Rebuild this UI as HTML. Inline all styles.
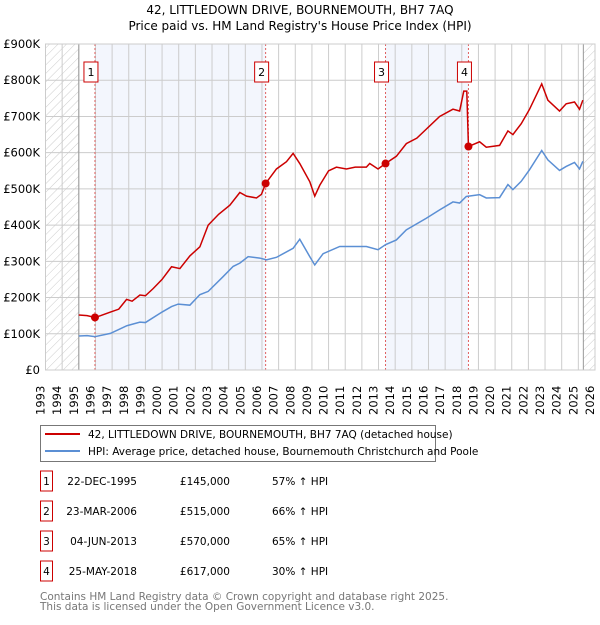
<!DOCTYPE html>
<html><head><meta charset="utf-8"><style>
body{margin:0;background:#fff;font-family:"Liberation Sans","DejaVu Sans",sans-serif;}
svg text{font-family:"DejaVu Sans","Liberation Sans",sans-serif;}
</style></head><body>
<svg id="c" width="600" height="620" viewBox="0 0 600 620">
<defs><pattern id="hatch" width="6" height="6" patternUnits="userSpaceOnUse" patternTransform="rotate(45)"><line x1="0" y1="0" x2="0" y2="6" stroke="#ccc" stroke-width="1"/></pattern></defs>
<text x="300" y="14" text-anchor="middle" font-size="12" fill="#000">42, LITTLEDOWN DRIVE, BOURNEMOUTH, BH7 7AQ</text>
<text x="300" y="30" text-anchor="middle" font-size="12" fill="#000">Price paid vs. HM Land Registry's House Price Index (HPI)</text>
<g id="plot"></g>
<g>
<rect x="40.5" y="425.5" width="395" height="36" fill="#fff" stroke="#777"/>
<line x1="45" y1="434" x2="80" y2="434" stroke="#cc0000" stroke-width="2"/>
<text x="88" y="438" font-size="10.5">42, LITTLEDOWN DRIVE, BOURNEMOUTH, BH7 7AQ (detached house)</text>
<line x1="45" y1="451" x2="80" y2="451" stroke="#5b8fd4" stroke-width="2"/>
<text x="88" y="455" font-size="10.5">HPI: Average price, detached house, Bournemouth Christchurch and Poole</text>
</g>
<g id="table" font-size="10.5"></g>
<text x="40" y="600" font-size="10.5" fill="#777">Contains HM Land Registry data © Crown copyright and database right 2025.</text>
<text x="40" y="610" font-size="10.5" fill="#777">This data is licensed under the Open Government Licence v3.0.</text>
</svg>
<script>
const yTicks=[0,100,200,300,400,500,600,700,800,900];
const yTickLabels=["£0","£100K","£200K","£300K","£400K","£500K","£600K","£700K","£800K","£900K"];
const years=[1993,1994,1995,1996,1997,1998,1999,2000,2001,2002,2003,2004,2005,2006,2007,2008,2009,2010,2011,2012,2013,2014,2015,2016,2017,2018,2019,2020,2021,2022,2023,2024,2025,2026];
const saleTimes=[1995.97,2006.22,2013.42,2018.4];
const salePrices=[145,515,570,617];
const saleLabels=["1","2","3","4"];
const saleDates=["22-DEC-1995","23-MAR-2006","04-JUN-2013","25-MAY-2018"];
const salePriceText=["£145,000","£515,000","£570,000","£617,000"];
const saleHpiText=["57% ↑ HPI","66% ↑ HPI","65% ↑ HPI","30% ↑ HPI"];
const redT=[1995.0,1995.5,1995.97,1996.3,1996.9,1997.4,1997.87,1998.2,1998.67,1999.0,1999.47,2000.0,2000.57,2001.07,2001.67,2002.27,2002.77,2003.4,2004.07,2004.67,2005.07,2005.67,2005.97,2006.22,2006.87,2007.47,2007.87,2008.27,2008.87,2009.17,2009.47,2010.0,2010.47,2011.07,2011.6,2012.27,2012.47,2012.97,2013.42,2014.07,2014.67,2015.3,2015.87,2016.67,2017.47,2017.87,2018.12,2018.3,2018.4,2019.07,2019.47,2020.27,2020.77,2021.07,2021.57,2022.07,2022.8,2023.17,2023.87,2024.27,2024.77,2025.07,2025.27];
const redV=[152,150,145,150,160,168,195,190,207,205,225,250,285,280,315,340,400,430,455,490,480,475,485,515,555,575,598,570,520,480,510,550,560,555,560,560,570,555,570,590,625,640,665,700,720,715,770,770,617,630,615,620,660,650,680,720,790,745,715,735,740,720,745];
const hpiT=[1995.0,1995.5,1995.97,1996.9,1997.87,1998.67,1999.0,2000.0,2000.57,2000.97,2001.67,2002.27,2002.77,2003.67,2004.27,2004.67,2005.17,2005.87,2006.27,2006.87,2007.87,2008.27,2008.87,2009.17,2009.67,2010.67,2011.5,2012.27,2012.97,2013.42,2014.07,2014.67,2015.87,2016.67,2017.47,2017.87,2018.27,2019.07,2019.47,2020.27,2020.77,2021.07,2021.57,2022.07,2022.8,2023.17,2023.87,2024.27,2024.77,2025.07,2025.27];
const hpiV=[94,95,92,101,122,132,131,160,175,182,179,208,217,258,286,295,313,309,304,311,336,361,313,290,321,341,341,341,332,346,359,387,419,442,464,461,479,484,475,476,512,498,521,553,606,580,551,562,573,555,576];
const NS="http://www.w3.org/2000/svg";
const L=45.5,R=595,T=44,B=370;
const x=t=>L+(t-1993)*(R-L)/33;
const y=v=>B-v*(B-T)/900;
function mk(p,tag,a){const e=document.createElementNS(NS,tag);for(const k in a)e.setAttribute(k,a[k]);p.appendChild(e);return e;}
const g=document.getElementById('plot');
mk(g,'rect',{x:L,y:T,width:R-L,height:B-T,fill:'#fff'});
for(let i=0;i<saleTimes.length;i+=2){
const s=mk(g,'rect',{x:x(saleTimes[i]),y:T,width:x(saleTimes[i+1])-x(saleTimes[i]),height:B-T,fill:'#f3f6fd'});

}
const h1=mk(g,'rect',{x:L,y:T,width:x(1995)-L,height:B-T,fill:'url(#hatch)'});


const h2=mk(g,'rect',{x:x(2025.3),y:T,width:R-x(2025.3),height:B-T,fill:'url(#hatch)'});


years.forEach(yr=>{mk(g,'line',{x1:x(yr),x2:x(yr),y1:T,y2:B,stroke:'#ccc','stroke-width':1});
const t=mk(g,'text',{x:0,y:0,transform:`translate(${x(yr)-1},${B+45}) rotate(-90)`,'font-size':'11.5',fill:'#000'});t.textContent=yr;

});
yTicks.forEach((v,i)=>{mk(g,'line',{x1:L,x2:R,y1:y(v),y2:y(v),stroke:'#ccc','stroke-width':1});
const t=mk(g,'text',{x:40,y:y(v)+4,'text-anchor':'end','font-size':'11.5',fill:'#000'});t.textContent=yTickLabels[i];

});
mk(g,'line',{x1:x(1995),x2:x(1995),y1:T,y2:B,stroke:'#999'});
mk(g,'line',{x1:x(2025.3),x2:x(2025.3),y1:T,y2:B,stroke:'#999'});
saleTimes.forEach(t=>mk(g,'line',{x1:x(t),x2:x(t),y1:T,y2:B,stroke:'#e06060','stroke-dasharray':'2,2','stroke-width':1}));
const hp=mk(g,'polyline',{points:hpiT.map((t,i)=>x(t)+','+y(hpiV[i])).join(' '),fill:'none',stroke:'#5b8fd4','stroke-width':1.5});


const rp=mk(g,'polyline',{points:redT.map((t,i)=>x(t)+','+y(redV[i])).join(' '),fill:'none',stroke:'#cc0000','stroke-width':1.5});


saleTimes.forEach((t,i)=>{const c=mk(g,'circle',{cx:x(t),cy:y(salePrices[i]),r:4,fill:'#cc0000'});


mk(g,'rect',{x:x(t)-11,y:62,width:14,height:20,fill:'#fff',stroke:'#cc0000'});
const tx=mk(g,'text',{x:x(t)-4,y:76,'text-anchor':'middle','font-size':'11'});tx.textContent=saleLabels[i];

});
mk(g,'rect',{x:L,y:T,width:R-L,height:B-T,fill:'none',stroke:'#ccc'});
const tb=document.getElementById('table');
saleLabels.forEach((lb,i)=>{const yy=483+i*30;
const r=mk(tb,'g',{});

mk(r,'rect',{x:40.5,y:yy-12,width:12,height:20,fill:'#fff',stroke:'#cc0000'});
const a=mk(r,'text',{x:46.5,y:yy+2,'text-anchor':'middle'});a.textContent=lb;
const b=mk(r,'text',{x:137,y:yy+2,'text-anchor':'end'});b.textContent=saleDates[i];
const c=mk(r,'text',{x:230,y:yy+2,'text-anchor':'end'});c.textContent=salePriceText[i];
const d=mk(r,'text',{x:272,y:yy+2});d.textContent=saleHpiText[i];});
</script>
</body></html>
